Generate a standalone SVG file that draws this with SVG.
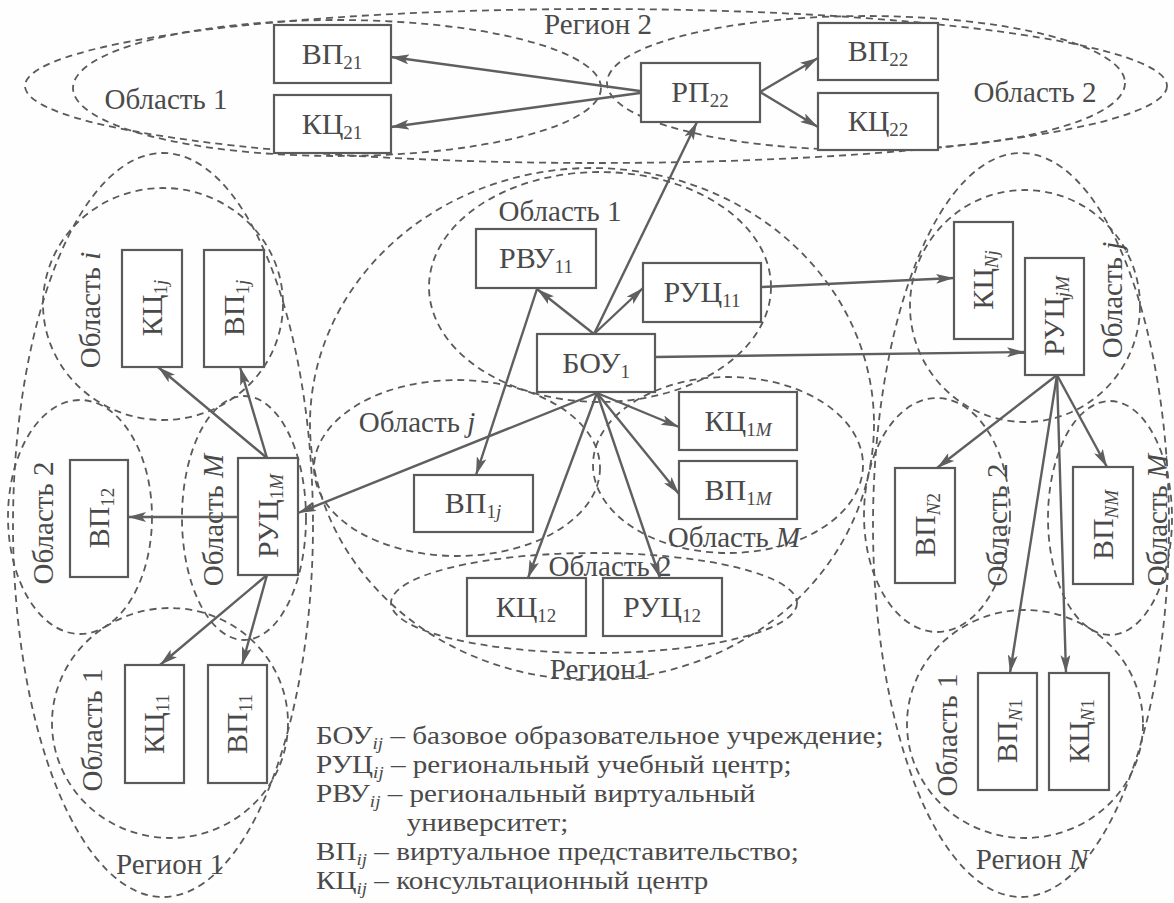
<svg xmlns="http://www.w3.org/2000/svg" width="1174" height="903" viewBox="0 0 1174 903">
<defs>
<marker id="a" markerUnits="userSpaceOnUse" markerWidth="18" markerHeight="10" refX="18" refY="5" orient="auto">
<path d="M0,0 L18,5 L0,10 L4,5 z" fill="#5f5f5f"/>
</marker>
</defs>
<style>
.e{fill:none;stroke:#5a5a5a;stroke-width:1.8;stroke-dasharray:7 5}
.b{fill:#fff;stroke:#5a5a5a;stroke-width:2.2}
.t{font-family:"Liberation Serif","Times New Roman","DejaVu Serif",serif;font-size:29px;fill:#4a4a4a}
.n{font-size:30px}
.l{font-size:26px}
.s{font-size:19px}
.ls{font-size:17px}
.i{font-style:italic}
.c{stroke:#5f5f5f;stroke-width:2.4;fill:none;marker-end:url(#a)}
</style>
<rect width="1174" height="903" fill="#fefefe"/>

<g id="regions">
<ellipse class="e" cx="596" cy="86" rx="571" ry="77"/>
<ellipse class="e" cx="337" cy="88" rx="264" ry="68"/>
<ellipse class="e" cx="866" cy="83" rx="259" ry="67"/>
<ellipse class="e" cx="163" cy="525" rx="150" ry="372"/>
<ellipse class="e" cx="163" cy="304" rx="120" ry="116"/>
<ellipse class="e" cx="80" cy="517" rx="72" ry="117"/>
<ellipse class="e" cx="244" cy="518" rx="62" ry="122"/>
<ellipse class="e" cx="170" cy="723" rx="118" ry="115"/>
<ellipse class="e" cx="592" cy="424" rx="282" ry="256"/>
<ellipse class="e" cx="600" cy="287" rx="171" ry="115"/>
<ellipse class="e" cx="457" cy="468" rx="143" ry="88"/>
<ellipse class="e" cx="728" cy="465" rx="135" ry="88"/>
<ellipse class="e" cx="594" cy="603" rx="203" ry="50"/>
<ellipse class="e" cx="1021" cy="525" rx="148" ry="372"/>
<ellipse class="e" cx="1025" cy="306" rx="115" ry="116"/>
<ellipse class="e" cx="937" cy="515" rx="73" ry="117"/>
<ellipse class="e" cx="1110" cy="518" rx="62" ry="117"/>
<ellipse class="e" cx="1025" cy="724" rx="118" ry="114"/>
</g>

<g id="region-labels" class="t">
<text x="598" y="34" text-anchor="middle">Регион 2</text>
<text x="166" y="109" text-anchor="middle">Область 1</text>
<text x="1035" y="102" text-anchor="middle">Область 2</text>
<text x="560" y="221" text-anchor="middle">Область 1</text>
<text x="417" y="432" text-anchor="middle">Область <tspan class="i">j</tspan></text>
<text x="734" y="547" text-anchor="middle">Область <tspan class="i">M</tspan></text>
<text x="610" y="576" text-anchor="middle">Область 2</text>
<text x="600" y="679" text-anchor="middle">Регион1</text>
<text x="170" y="874" text-anchor="middle">Регион 1</text>
<text x="1032" y="869" text-anchor="middle">Регион <tspan class="i">N</tspan></text>
<text transform="translate(90,310) rotate(-90)" y="10" text-anchor="middle">Область <tspan class="i">i</tspan></text>
<text transform="translate(43,523) rotate(-90)" y="10" text-anchor="middle">Область 2</text>
<text transform="translate(213,520) rotate(-90)" y="10" text-anchor="middle">Область <tspan class="i">M</tspan></text>
<text transform="translate(92,730) rotate(-90)" y="10" text-anchor="middle">Область 1</text>
<text transform="translate(1112,300) rotate(-90)" y="10" text-anchor="middle">Область <tspan class="i">j</tspan></text>
<text transform="translate(997,525) rotate(-90)" y="10" text-anchor="middle">Область 2</text>
<text transform="translate(1157,520) rotate(-90)" y="10" text-anchor="middle">Область <tspan class="i">M</tspan></text>
<text transform="translate(947,735) rotate(-90)" y="10" text-anchor="middle">Область 1</text>
</g>

<g id="connectors">
<line class="c" x1="640" y1="91" x2="391" y2="57"/>
<line class="c" x1="640" y1="93" x2="391" y2="127"/>
<line class="c" x1="760" y1="92" x2="818" y2="58"/>
<line class="c" x1="760" y1="92" x2="818" y2="127"/>
<line class="c" x1="594" y1="334" x2="697" y2="122"/>
<line class="c" x1="594" y1="334" x2="537" y2="289"/>
<line class="c" x1="594" y1="334" x2="643" y2="288"/>
<line class="c" x1="537" y1="289" x2="476" y2="475"/>
<line class="c" x1="761" y1="287" x2="954" y2="278"/>
<line class="c" x1="655" y1="357" x2="1025" y2="352"/>
<line class="c" x1="597" y1="393" x2="679" y2="427"/>
<line class="c" x1="597" y1="393" x2="679" y2="494"/>
<line class="c" x1="597" y1="393" x2="528" y2="578"/>
<line class="c" x1="597" y1="393" x2="660" y2="578"/>
<line class="c" x1="597" y1="393" x2="298" y2="513"/>
<line class="c" x1="267" y1="458" x2="158" y2="367"/>
<line class="c" x1="267" y1="458" x2="240" y2="367"/>
<line class="c" x1="238" y1="517" x2="128" y2="517"/>
<line class="c" x1="267" y1="575" x2="160" y2="665"/>
<line class="c" x1="267" y1="575" x2="242" y2="665"/>
<line class="c" x1="1057" y1="375" x2="937" y2="468"/>
<line class="c" x1="1057" y1="375" x2="1107" y2="467"/>
<line class="c" x1="1057" y1="375" x2="1010" y2="673"/>
<line class="c" x1="1057" y1="375" x2="1066" y2="673"/>
</g>

<g id="n-vp21"><rect class="b" x="274" y="25" width="117" height="58"/><text class="t n" x="332" y="64" text-anchor="middle">ВП<tspan class="s" dy="5">21</tspan></text></g>
<g id="n-kc21"><rect class="b" x="274" y="95" width="117" height="58"/><text class="t n" x="332" y="134" text-anchor="middle">КЦ<tspan class="s" dy="5">21</tspan></text></g>
<g id="n-rp22"><rect class="b" x="641" y="63" width="119" height="59"/><text class="t n" x="700" y="102" text-anchor="middle">РП<tspan class="s" dy="5">22</tspan></text></g>
<g id="n-vp22"><rect class="b" x="818" y="23" width="120" height="57"/><text class="t n" x="878" y="61" text-anchor="middle">ВП<tspan class="s" dy="5">22</tspan></text></g>
<g id="n-kc22"><rect class="b" x="818" y="93" width="120" height="57"/><text class="t n" x="878" y="131" text-anchor="middle">КЦ<tspan class="s" dy="5">22</tspan></text></g>

<g id="n-rvu11"><rect class="b" x="476" y="229" width="120" height="59"/><text class="t n" x="536" y="268" text-anchor="middle">РВУ<tspan class="s" dy="5">11</tspan></text></g>
<g id="n-ruc11"><rect class="b" x="643" y="263" width="118" height="59"/><text class="t n" x="702" y="302" text-anchor="middle">РУЦ<tspan class="s" dy="5">11</tspan></text></g>
<g id="n-bou1"><rect class="b" x="537" y="334" width="118" height="58"/><text class="t n" x="596" y="373" text-anchor="middle">БОУ<tspan class="s" dy="5">1</tspan></text></g>
<g id="n-kc1m"><rect class="b" x="679" y="392" width="118" height="58"/><text class="t n" x="738" y="431" text-anchor="middle">КЦ<tspan class="s" dy="5">1<tspan class="i">M</tspan></tspan></text></g>
<g id="n-vp1m"><rect class="b" x="679" y="461" width="118" height="58"/><text class="t n" x="738" y="500" text-anchor="middle">ВП<tspan class="s" dy="5">1<tspan class="i">M</tspan></tspan></text></g>
<g id="n-vp1j-c"><rect class="b" x="414" y="475" width="119" height="57"/><text class="t n" x="473" y="513" text-anchor="middle">ВП<tspan class="s" dy="5">1<tspan class="i">j</tspan></tspan></text></g>
<g id="n-kc12"><rect class="b" x="467" y="578" width="119" height="58"/><text class="t n" x="526" y="617" text-anchor="middle">КЦ<tspan class="s" dy="5">12</tspan></text></g>
<g id="n-ruc12"><rect class="b" x="603" y="578" width="119" height="58"/><text class="t n" x="662" y="617" text-anchor="middle">РУЦ<tspan class="s" dy="5">12</tspan></text></g>

<g id="n-kc1j"><rect class="b" x="122" y="250" width="60" height="117"/><text class="t n" transform="translate(152,308) rotate(-90)" y="10" text-anchor="middle">КЦ<tspan class="s" dy="5">1<tspan class="i">j</tspan></tspan></text></g>
<g id="n-vp1j-l"><rect class="b" x="204" y="250" width="60" height="117"/><text class="t n" transform="translate(234,308) rotate(-90)" y="10" text-anchor="middle">ВП<tspan class="s" dy="5">1<tspan class="i">j</tspan></tspan></text></g>
<g id="n-vp12"><rect class="b" x="70" y="460" width="58" height="117"/><text class="t n" transform="translate(99,518) rotate(-90)" y="10" text-anchor="middle">ВП<tspan class="s" dy="5">12</tspan></text></g>
<g id="n-ruc1m"><rect class="b" x="238" y="458" width="60" height="117"/><text class="t n" transform="translate(268,516) rotate(-90)" y="10" text-anchor="middle">РУЦ<tspan class="s" dy="5">1<tspan class="i">M</tspan></tspan></text></g>
<g id="n-kc11"><rect class="b" x="125" y="665" width="59" height="118"/><text class="t n" transform="translate(154,724) rotate(-90)" y="10" text-anchor="middle">КЦ<tspan class="s" dy="5">11</tspan></text></g>
<g id="n-vp11"><rect class="b" x="208" y="665" width="59" height="118"/><text class="t n" transform="translate(237,724) rotate(-90)" y="10" text-anchor="middle">ВП<tspan class="s" dy="5">11</tspan></text></g>

<g id="n-kcnj"><rect class="b" x="954" y="222" width="59" height="117"/><text class="t n" transform="translate(983,280) rotate(-90)" y="10" text-anchor="middle">КЦ<tspan class="s i" dy="5">Nj</tspan></text></g>
<g id="n-rucjm"><rect class="b" x="1025" y="258" width="59" height="117"/><text class="t n" transform="translate(1054,316) rotate(-90)" y="10" text-anchor="middle">РУЦ<tspan class="s i" dy="5">jM</tspan></text></g>
<g id="n-vpn2"><rect class="b" x="895" y="468" width="60" height="115"/><text class="t n" transform="translate(925,525) rotate(-90)" y="10" text-anchor="middle">ВП<tspan class="s" dy="5"><tspan class="i">N</tspan>2</tspan></text></g>
<g id="n-vpnm"><rect class="b" x="1073" y="467" width="60" height="117"/><text class="t n" transform="translate(1103,525) rotate(-90)" y="10" text-anchor="middle">ВП<tspan class="s i" dy="5">NM</tspan></text></g>
<g id="n-vpn1"><rect class="b" x="978" y="673" width="59" height="117"/><text class="t n" transform="translate(1007,731) rotate(-90)" y="10" text-anchor="middle">ВП<tspan class="s" dy="5"><tspan class="i">N</tspan>1</tspan></text></g>
<g id="n-kcn1"><rect class="b" x="1049" y="673" width="60" height="117"/><text class="t n" transform="translate(1079,731) rotate(-90)" y="10" text-anchor="middle">КЦ<tspan class="s" dy="5"><tspan class="i">N</tspan>1</tspan></text></g>

<g id="legend" class="t l" transform="translate(316,0) scale(1.12,1)">
<text x="0" y="744">БОУ<tspan class="ls i" dy="5">ij</tspan><tspan dy="-5"> – базовое образовательное учреждение;</tspan></text>
<text x="0" y="773">РУЦ<tspan class="ls i" dy="5">ij</tspan><tspan dy="-5"> – региональный учебный центр;</tspan></text>
<text x="0" y="802">РВУ<tspan class="ls i" dy="5">ij</tspan><tspan dy="-5"> – региональный виртуальный</tspan></text>
<text x="81" y="831">университет;</text>
<text x="0" y="860">ВП<tspan class="ls i" dy="5">ij</tspan><tspan dy="-5"> – виртуальное представительство;</tspan></text>
<text x="0" y="889">КЦ<tspan class="ls i" dy="5">ij</tspan><tspan dy="-5"> – консультационный центр</tspan></text>
</g>
</svg>
